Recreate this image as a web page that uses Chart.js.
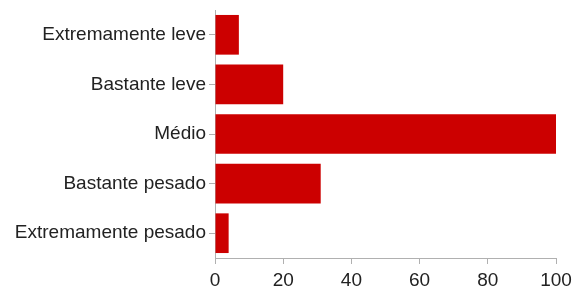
<!DOCTYPE html>
<html>
<head>
<meta charset="utf-8">
<script src="https://cdn.jsdelivr.net/npm/chart.js@4"></script>
<style>
html,body{margin:0;padding:0;background:#fff;}
#wrap{width:574px;height:286px;position:relative;}
</style>
</head>
<body>
<div id="wrap"><canvas id="c" width="574" height="286"></canvas></div>
<script>
const categories = ["Extremamente leve", "Bastante leve", "Médio", "Bastante pesado", "Extremamente pesado"];
const values = [7, 20, 100, 31, 4];
const xTicks = [0, 20, 40, 60, 80, 100];

const axisColor = '#b0b0b0';
const font = {family: '"Liberation Sans", Arial, Helvetica, sans-serif', size: 19};

new Chart(document.getElementById('c'), {
  type: 'bar',
  data: {
    labels: categories,
    datasets: [{
      data: values,
      backgroundColor: '#cc0000',
      borderWidth: 0,
      categoryPercentage: 0.8,
      barPercentage: 1.0
    }]
  },
  options: {
    indexAxis: 'y',
    responsive: false,
    animation: false,
    devicePixelRatio: 1,
    layout: {padding: {top: 10, right: 18, left: 0, bottom: 0}},
    plugins: {legend: {display: false}, tooltip: {enabled: false}},
    scales: {
      x: {
        min: 0, max: 100,
        afterBuildTicks: (s) => { s.ticks = xTicks.map(v => ({value: v})); },
        afterFit: (s) => { s.height = 28; s.paddingLeft = 0; s.paddingRight = 0; },
        border: {display: true, color: axisColor, width: 1},
        grid: {drawOnChartArea: false, drawTicks: true, tickLength: 6, color: axisColor},
        ticks: {color: '#222', font: font, padding: 5, maxRotation: 0, autoSkip: false}
      },
      y: {
        afterFit: (s) => { s.width = 215; s.paddingTop = 0; s.paddingBottom = 0; },
        border: {display: true, color: axisColor, width: 1},
        grid: {drawOnChartArea: false, drawTicks: true, tickLength: 6, color: axisColor, offset: false},
        ticks: {color: '#222', font: font, padding: 3}
      }
    }
  }
});
</script>
</body>
</html>
